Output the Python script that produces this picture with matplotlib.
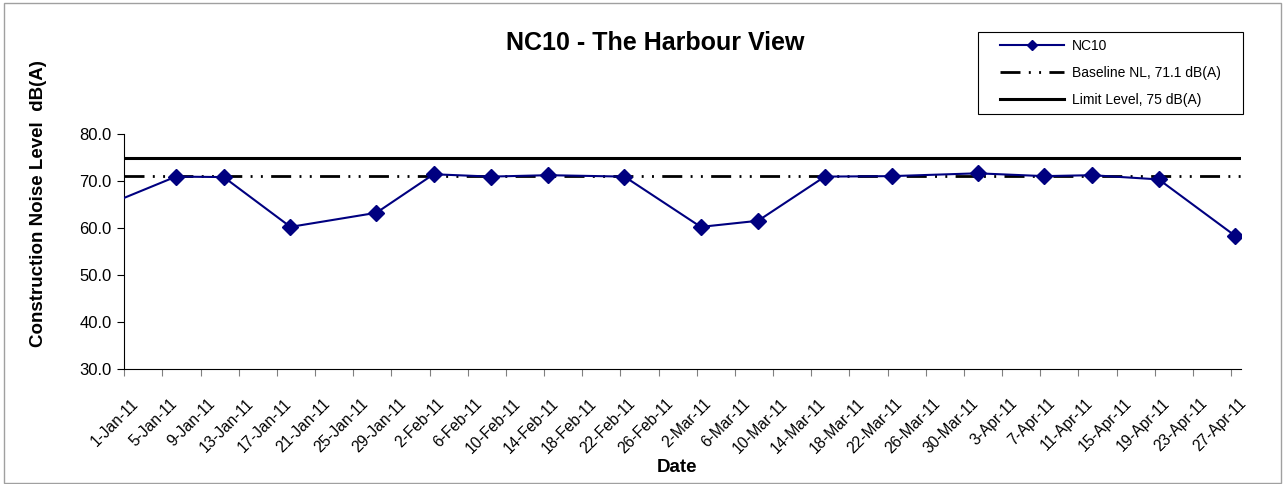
import datetime as dt

import matplotlib

matplotlib.use("Agg")
import matplotlib.pyplot as plt
import matplotlib.transforms as mtransforms
from matplotlib.patches import Rectangle
from matplotlib.ticker import FormatStrFormatter

plt.rcParams["font.family"] = ["Liberation Sans", "DejaVu Sans"]

# measurement dates and levels, dB(A)
dates = ["2010-12-25", "2011-01-06", "2011-01-11", "2011-01-18", "2011-01-27",
         "2011-02-02", "2011-02-08", "2011-02-14", "2011-02-22", "2011-03-02",
         "2011-03-08", "2011-03-15", "2011-03-22", "2011-03-31", "2011-04-07",
         "2011-04-12", "2011-04-19", "2011-04-27"]
levels = [61.0, 71.0, 70.9, 60.3, 63.3, 71.5, 71.0, 71.3, 71.0, 60.3,
          61.6, 71.0, 71.1, 71.7, 71.1, 71.3, 70.4, 58.4]
baseline = 71.1
limit = 75.0
y_ticks = [30, 40, 50, 60, 70, 80]

W, H = 1285, 484
x = [dt.datetime.strptime(d, "%Y-%m-%d") + dt.timedelta(hours=10) for d in dates]
x0 = dt.datetime(2011, 1, 1)
x1 = dt.datetime(2011, 4, 28)

fig = plt.figure(figsize=(W / 100, H / 100), dpi=100)
ax = fig.add_axes([124.3 / W, 1 - 369.3 / H, (1240.7 - 124.3) / W, (369.3 - 134.3) / H])

ax.plot(x, levels, color="#000080", lw=1.5, marker="D", ms=8.5, label="NC10", zorder=3)
ax.plot([x0, x1], [baseline, baseline], color="black", lw=2,
        linestyle=(0, (7.2, 3, 0.7, 3, 0.7, 3)), label="Baseline NL, 71.1 dB(A)", zorder=2)
ax.plot([x0, x1], [limit, limit], color="black", lw=2.2, label="Limit Level, 75 dB(A)", zorder=2)

ax.set_xlim(x0, x1)
ax.set_ylim(30, 80)
ax.set_yticks(y_ticks)
ax.yaxis.set_major_formatter(FormatStrFormatter("%.1f"))
ticks = [x0 + dt.timedelta(days=4 * i) for i in range(30)]
ax.set_xticks(ticks)
ax.set_xticklabels([f"{t.day}-{t:%b}-11" for t in ticks], rotation=45, ha="right", va="top",
                   rotation_mode="anchor", fontsize=11.2)
ax.tick_params(axis="y", labelsize=12, length=5, width=0.8, pad=4)
ax.tick_params(axis="x", length=5, width=0.8, pad=14, color="#808080")
shift = mtransforms.ScaledTranslation(7 / 100, 0, fig.dpi_scale_trans)
for lab in ax.get_xticklabels():
    lab.set_transform(lab.get_transform() + shift)
ax.spines["top"].set_visible(False)
ax.spines["right"].set_visible(False)

ax.set_xlabel("Date", fontsize=13.5, fontweight="bold")
ax.xaxis.set_label_coords((676.5 - 124.3) / 1116.4, -(468 - 369.3) / 235)
ax.xaxis.label.set_va("center")
ax.set_ylabel("Construction Noise Level  dB(A)", fontsize=13.5, fontweight="bold")
ax.yaxis.set_label_coords((38.5 - 124.3) / 1116.4, 1 - (204 - 134.3) / 235)
ax.yaxis.label.set_va("center")
fig.text(655 / W, 1 - 43 / H, "NC10 - The Harbour View", fontsize=18, fontweight="bold",
         ha="center", va="center")

leg = ax.legend(loc="upper left", bbox_to_anchor=(1000 / W, 1 - 39 / H),
                bbox_transform=fig.transFigure, fontsize=10, frameon=False,
                handlelength=4.6, borderpad=0, labelspacing=0.94,
                handletextpad=0.6, borderaxespad=0)
for h in leg.get_lines()[:1]:
    h.set_markersize(5)
fig.patches.append(Rectangle((978 / W, 1 - 114 / H), (1243 - 978) / W, 82 / H,
                             transform=fig.transFigure, fill=False, edgecolor="black", lw=0.8))

fig.patches.append(Rectangle((4 / W, 0.002), 1277 / W, 1 - 4 / H, transform=fig.transFigure,
                             fill=False, edgecolor="#a0a0a0", lw=1))

fig.savefig("out.png", dpi=100)
